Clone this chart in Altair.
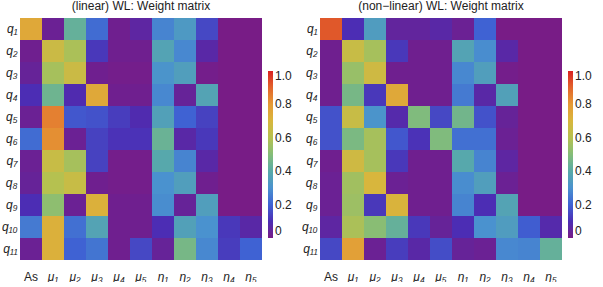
import altair as alt
import pandas as pd

# Row and column labels of the weight matrices
rows = ["q₁", "q₂", "q₃", "q₄", "q₅", "q₆", "q₇", "q₈", "q₉", "q₁₀", "q₁₁"]
cols = ["As", "μ₁", "μ₂", "μ₃", "μ₄", "μ₅", "η₁", "η₂", "η₃", "η₄", "η₅"]

# Linear WL weights (one list per row q_i, columns As, mu1..mu5, eta1..eta5)
linear = [
    [0.75, 0.03, 0.43, 0.22, 0.02, 0.06, 0.27, 0.33, 0.15, 0.00, 0.00],
    [0.02, 0.66, 0.58, 0.12, 0.02, 0.02, 0.37, 0.28, 0.07, 0.00, 0.00],
    [0.04, 0.57, 0.66, 0.02, 0.01, 0.01, 0.31, 0.35, 0.01, 0.00, 0.00],
    [0.10, 0.45, 0.09, 0.75, 0.02, 0.02, 0.28, 0.04, 0.37, 0.00, 0.00],
    [0.03, 0.85, 0.18, 0.17, 0.13, 0.09, 0.36, 0.20, 0.14, 0.00, 0.00],
    [0.22, 0.82, 0.03, 0.14, 0.11, 0.11, 0.44, 0.07, 0.12, 0.00, 0.00],
    [0.03, 0.65, 0.57, 0.14, 0.01, 0.01, 0.39, 0.27, 0.07, 0.00, 0.00],
    [0.04, 0.60, 0.65, 0.02, 0.01, 0.01, 0.30, 0.35, 0.02, 0.00, 0.00],
    [0.10, 0.52, 0.03, 0.72, 0.02, 0.02, 0.29, 0.04, 0.35, 0.00, 0.00],
    [0.25, 0.72, 0.23, 0.37, 0.02, 0.02, 0.10, 0.36, 0.30, 0.12, 0.07],
    [0.03, 0.72, 0.20, 0.24, 0.02, 0.15, 0.04, 0.47, 0.28, 0.13, 0.20],
]

# Non-linear WL weights
nonlinear = [
    [0.92, 0.10, 0.34, 0.05, 0.05, 0.07, 0.03, 0.20, 0.00, 0.00, 0.00],
    [0.02, 0.65, 0.57, 0.12, 0.02, 0.02, 0.37, 0.29, 0.07, 0.00, 0.00],
    [0.02, 0.54, 0.67, 0.02, 0.02, 0.02, 0.28, 0.35, 0.01, 0.00, 0.00],
    [0.02, 0.47, 0.12, 0.75, 0.02, 0.02, 0.25, 0.07, 0.36, 0.00, 0.00],
    [0.17, 0.65, 0.31, 0.08, 0.49, 0.15, 0.46, 0.17, 0.04, 0.00, 0.00],
    [0.17, 0.48, 0.57, 0.18, 0.11, 0.49, 0.23, 0.23, 0.03, 0.00, 0.00],
    [0.02, 0.67, 0.57, 0.12, 0.02, 0.02, 0.39, 0.27, 0.06, 0.00, 0.00],
    [0.03, 0.56, 0.70, 0.03, 0.02, 0.02, 0.29, 0.35, 0.03, 0.00, 0.00],
    [0.03, 0.55, 0.12, 0.71, 0.02, 0.02, 0.27, 0.10, 0.37, 0.00, 0.00],
    [0.06, 0.58, 0.51, 0.43, 0.12, 0.04, 0.10, 0.30, 0.34, 0.19, 0.08],
    [0.15, 0.78, 0.03, 0.13, 0.07, 0.16, 0.04, 0.03, 0.28, 0.27, 0.43],
]

# Rainbow gradient stops
stops = [0.0, 0.1, 0.2, 0.3, 0.4, 0.5, 0.6, 0.7, 0.8, 0.9, 1.0]
colors = ["#781c86", "#4c2db4", "#3f62d3", "#4a92cf", "#58aaa8", "#84bd78",
          "#b5c150", "#d8b63d", "#e59a35", "#e2652c", "#d92222"]

FONT = "Liberation Sans"


def to_frame(matrix):
    recs = []
    for i, r in enumerate(rows):
        for j, c in enumerate(cols):
            recs.append({"row": r, "col": c, "w": matrix[i][j]})
    return pd.DataFrame(recs)


def heatmap(matrix, title):
    return (
        alt.Chart(to_frame(matrix), title=alt.Title(
            title, fontSize=12, fontWeight="normal", font=FONT,
            color="#222222", offset=5))
        .mark_rect()
        .encode(
            x=alt.X("col:N", sort=cols, title=None,
                    axis=alt.Axis(labelAngle=0, ticks=False, domain=False,
                                  labelPadding=11, labelFontSize=12,
                                  labelFont=FONT, labelColor="#222222",
                                  labelFontStyle={"condition": {"test": "datum.value == 'As'", "value": "normal"}, "value": "italic"})),
            y=alt.Y("row:N", sort=rows, title=None,
                    axis=alt.Axis(ticks=False, domain=False, labelPadding=3,
                                  labelFontSize=12, labelFont=FONT,
                                  labelFontStyle="italic", labelColor="#222222")),
            color=alt.Color(
                "w:Q",
                scale=alt.Scale(domain=stops, range=colors, interpolate="rgb"),
                legend=alt.Legend(
                    title=None, orient="none", legendX=248, legendY=53,
                    direction="vertical", gradientLength=167,
                    gradientThickness=5, values=[0, 0.2, 0.4, 0.6, 0.8, 1.0],
                    labelExpr="datum.value == 0 ? '0' : format(datum.value, '.1f')",
                    labelFontSize=12, labelFont=FONT, labelColor="#222222",
                    labelOffset=2, labelBaseline="middle",
                    gradientStrokeWidth=0),
            ),
        )
        .properties(width=242, height=242)
    )


left = heatmap(linear, "(linear) WL: Weight matrix")
right = heatmap(nonlinear, "(non−linear) WL: Weight matrix")

chart = (
    alt.hconcat(left, right, spacing=58, bounds="flush")
    .resolve_scale(color="independent")
    .properties(padding={"left": 1, "top": 0, "right": 0, "bottom": 0})
    .configure_view(stroke=None)
)

chart.save("out.html", embed_options={"renderer": "svg", "actions": False})
